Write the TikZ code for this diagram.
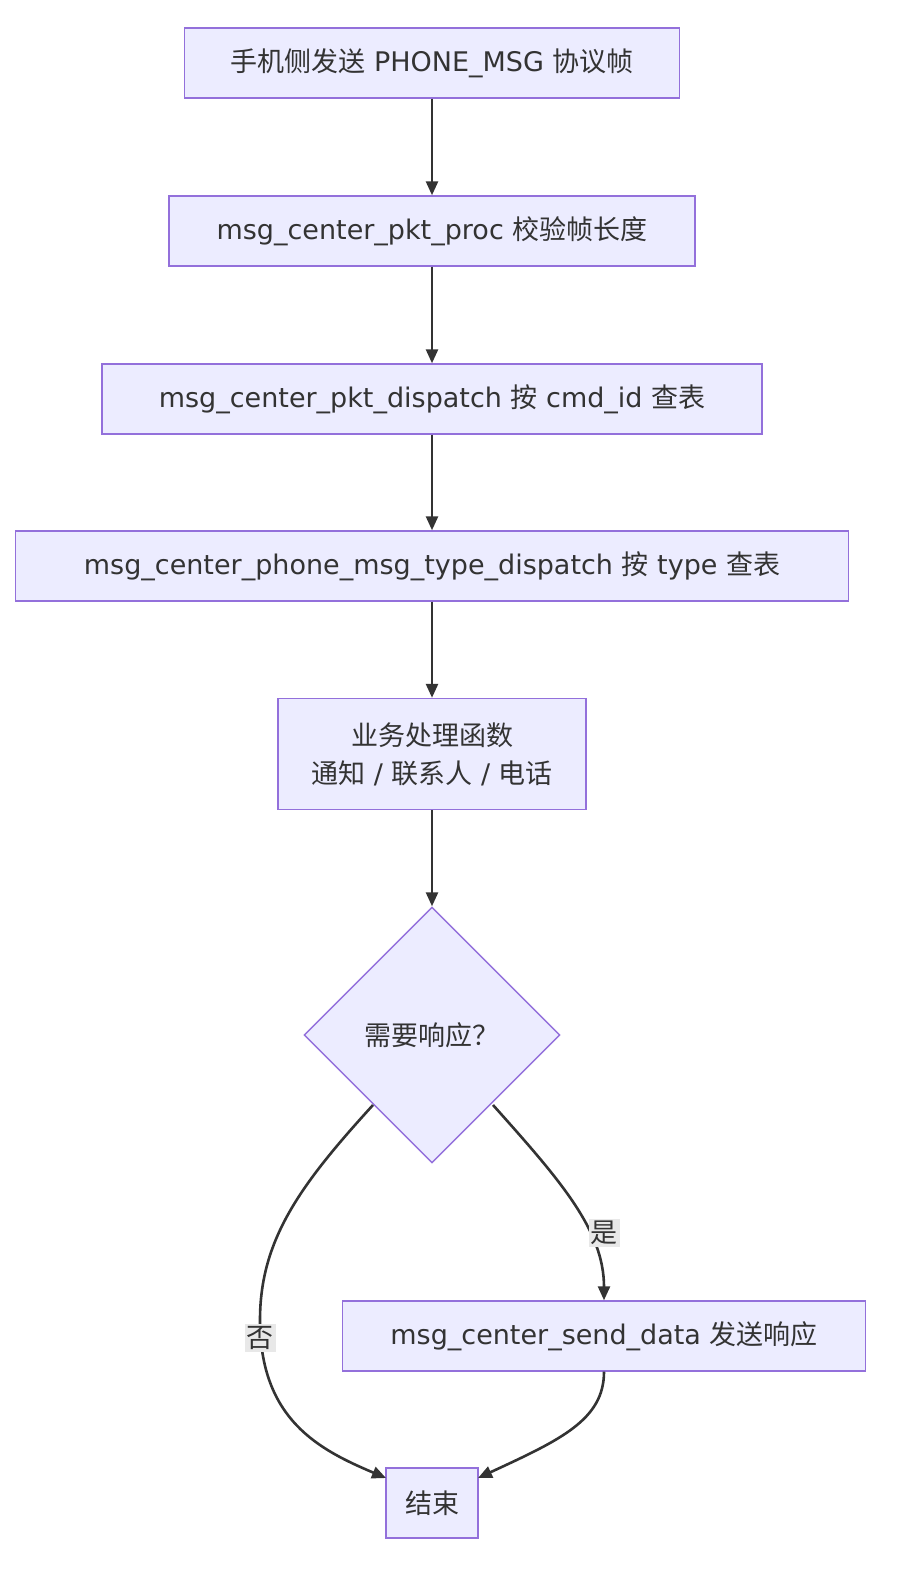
\documentclass[tikz,border=0pt]{standalone}
\usepackage{fontspec}
\setmainfont{DejaVu Sans}
\newfontfamily\cjk{Noto Sans CJK SC}
\newcommand{\zh}[1]{{\cjk #1}}
\usetikzlibrary{shapes.geometric,arrows.meta}
\definecolor{nfill}{HTML}{ECECFF}
\definecolor{nline}{HTML}{9370DB}
\definecolor{eline}{HTML}{333333}
\definecolor{lbg}{HTML}{E8E8E8}
\begin{document}
\begin{tikzpicture}[x=0.5pt,y=-0.5pt,
  box/.style={draw=nline,fill=nfill,line width=0.7pt,font=\fontsize{13.5pt}{19pt}\selectfont,text=eline,align=center,inner sep=0pt},
  dia/.style={diamond,draw=nline,fill=nfill,line width=0.7pt,font=\fontsize{13.5pt}{19pt}\selectfont,text=eline,minimum width=128pt,minimum height=128pt,inner sep=0pt},
  arr/.style={draw=eline,line width=1.3pt,-{Triangle[length=7pt,width=6pt]}},
  lab/.style={fill=lbg,font=\fontsize{13.5pt}{15pt}\selectfont,text=eline,inner sep=1pt}]
\useasboundingbox (0,0) rectangle (906,1582);
\node[box,minimum width=247.5pt,minimum height=35pt] (a) at (432,63) {\zh{手机侧发送} PHONE\_MSG \zh{协议帧}};
\node[box,minimum width=263pt,minimum height=35pt] (b) at (432,231) {msg\_center\_pkt\_proc \zh{校验帧长度}};
\node[box,minimum width=330pt,minimum height=35pt] (c) at (432,399) {msg\_center\_pkt\_dispatch \zh{按} cmd\_id \zh{查表}};
\node[box,minimum width=416.5pt,minimum height=35pt] (d) at (432,566) {msg\_center\_phone\_msg\_type\_dispatch \zh{按} type \zh{查表}};
\node[box,minimum width=154pt,minimum height=55.5pt] (e) at (432,754) {\zh{业务处理函数}\\\zh{通知} / \zh{联系人} / \zh{电话}};
\node[dia] (f) at (432,1035) {\zh{需要响应？}};
\node[box,minimum width=261.5pt,minimum height=35pt] (g) at (604,1336) {msg\_center\_send\_data \zh{发送响应}};
\node[box,minimum width=46pt,minimum height=35pt] (h) at (432,1503) {\zh{结束}};
\coordinate (hl) at (386,1478);
\coordinate (hr) at (478,1478);
\draw[arr] (a) -- (b);
\draw[arr] (b) -- (c);
\draw[arr] (c) -- (d);
\draw[arr] (d) -- (e);
\draw[arr] (e.south) .. controls (432,870) and (432,880) .. (f.north);
\draw[arr] (373,1105) .. controls (300,1185) and (260,1240) .. (260,1320) .. controls (260,1420) and (320,1450) .. (hl);
\node[lab] (no) at (260,1338) {\zh{否}};
\draw[arr] (493,1105) .. controls (560,1180) and (604,1230) .. (g.north);
\node[lab] (yes) at (604,1233) {\zh{是}};
\draw[arr] (g.south) .. controls (604,1420) and (560,1440) .. (hr);
\end{tikzpicture}
\end{document}
